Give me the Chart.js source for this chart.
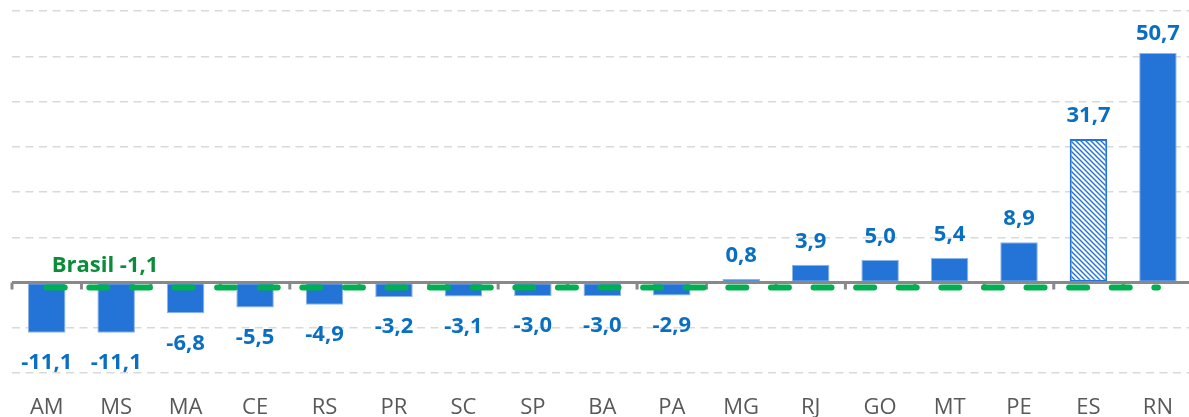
<!DOCTYPE html>
<html>
<head>
<meta charset="utf-8">
<script src="https://cdn.jsdelivr.net/npm/chart.js@4"></script>
<style>
  html, body { margin: 0; padding: 0; background: #fff; overflow: hidden; }
  #wrap { width: 1195px; height: 417px; position: relative; }
</style>
</head>
<body>
<div id="wrap"><canvas id="chart"></canvas></div>
<script>
// States, ordered as in the picture
const states = ['AM', 'MS', 'MA', 'CE', 'RS', 'PR', 'SC', 'SP', 'BA', 'PA', 'MG', 'RJ', 'GO', 'MT', 'PE', 'ES', 'RN'];
// Variation (%) per state
const values = [-11.1, -11.1, -6.8, -5.5, -4.9, -3.2, -3.1, -3.0, -3.0, -2.9, 0.8, 3.9, 5.0, 5.4, 8.9, 31.7, 50.7];
// National reference
const brasilValue = -1.1;
const brasilLabel = 'Brasil -1,1';
// States drawn with a hatched bar
const hatchedStates = ['ES'];

const FONT = "'Open Sans', 'Noto Sans', sans-serif";
const BLUE = '#2473D7';
const LABEL_BLUE = '#0A6FC2';
const GREEN_LINE = '#00B050';
const GREEN_TEXT = '#0A8C3A';

const fmt = v => v.toFixed(1).replace('.', ',');

// Diagonal hatch used for the ES bar
function hatchPattern() {
  const c = document.createElement('canvas');
  c.width = 5; c.height = 5;
  const g = c.getContext('2d');
  g.fillStyle = '#fff';
  g.fillRect(0, 0, 5, 5);
  g.strokeStyle = BLUE;
  g.lineWidth = 1.4;
  g.beginPath();
  g.moveTo(-1, -1); g.lineTo(6, 6);
  g.moveTo(-1, 4); g.lineTo(1, 6);
  g.moveTo(4, -1); g.lineTo(6, 1);
  g.stroke();
  return g.createPattern(c, 'repeat');
}

const ctx = document.getElementById('chart');
const hatch = hatchPattern();

// Zero axis with small tick marks between categories, drawn over the bars
const zeroAxis = {
  id: 'zeroAxis',
  afterDatasetDraw(chart, args) {
    if (args.index !== 0) return;
    const { ctx, chartArea, scales: { x, y } } = chart;
    const y0 = y.getPixelForValue(0);
    ctx.save();
    ctx.strokeStyle = '#898989';
    ctx.lineWidth = 3;
    ctx.beginPath();
    ctx.moveTo(chartArea.left, y0);
    ctx.lineTo(chartArea.right, y0);
    ctx.stroke();
    const step = x.getPixelForValue(1) - x.getPixelForValue(0);
    ctx.beginPath();
    for (let i = 0; i <= states.length; i++) {
      const px = x.getPixelForValue(0) - step / 2 + i * step;
      ctx.moveTo(px, y0);
      ctx.lineTo(px, y0 + 7);
    }
    ctx.stroke();
    ctx.restore();
  }
};

// Value labels and the Brasil caption
const valueLabels = {
  id: 'valueLabels',
  afterDatasetsDraw(chart) {
    const { ctx, chartArea } = chart;
    const meta = chart.getDatasetMeta(0);
    ctx.save();
    ctx.font = `bold 22px ${FONT}`;
    ctx.fillStyle = LABEL_BLUE;
    ctx.textAlign = 'center';
    meta.data.forEach((bar, i) => {
      const v = values[i];
      if (v >= 0) {
        // keep the tallest label inside the plot
        ctx.textBaseline = 'alphabetic';
        ctx.fillText(fmt(v), bar.x, Math.max(bar.y - 17, chartArea.top + 29));
      } else {
        ctx.textBaseline = 'top';
        ctx.fillText(fmt(v), bar.x, bar.y + 19);
      }
    });
    const line = chart.getDatasetMeta(1);
    ctx.fillStyle = GREEN_TEXT;
    ctx.textAlign = 'left';
    ctx.textBaseline = 'alphabetic';
    ctx.fillText(brasilLabel, line.data[0].x + 5, line.data[0].y - 15);
    ctx.restore();
  }
};

new Chart(ctx, {
  data: {
    labels: states,
    datasets: [
      {
        type: 'bar',
        order: 1,
        data: values,
        backgroundColor: states.map(s => hatchedStates.includes(s) ? hatch : BLUE),
        borderColor: states.map(s => hatchedStates.includes(s) ? BLUE : '#8DB5EA'),
        borderWidth: states.map(s => hatchedStates.includes(s) ? 2 : 1),
        borderSkipped: false,
        barPercentage: 0.54,
        categoryPercentage: 1,
      },
      {
        type: 'line',
        order: 0,
        data: states.map(() => brasilValue),
        borderColor: GREEN_LINE,
        borderWidth: 6,
        borderDash: [18, 24.6],
        borderCapStyle: 'round',
        pointRadius: 0,
        fill: false,
      },
    ],
  },
  options: {
    responsive: true,
    maintainAspectRatio: false,
    animation: false,
    layout: { padding: { top: 11, left: 12, right: 0, bottom: 0 } },
    plugins: { legend: { display: false }, tooltip: { enabled: false } },
    scales: {
      x: {
        grid: { display: false, drawTicks: false },
        border: { display: false },
        ticks: {
          color: '#595959',
          font: { family: FONT, size: 22 },
          padding: 22,
          maxRotation: 0,
          autoSkip: false,
        },
        afterFit(scale) { scale.height = 44; },
      },
      y: {
        min: -20,
        max: 60,
        ticks: { display: false, stepSize: 10 },
        grid: { color: '#D9D9D9', lineWidth: 1.5, drawTicks: false },
        border: { display: false, dash: [8, 5.5] },
        afterFit(scale) { scale.width = 0; },
      },
    },
  },
  plugins: [zeroAxis, valueLabels],
});
</script>
</body>
</html>
